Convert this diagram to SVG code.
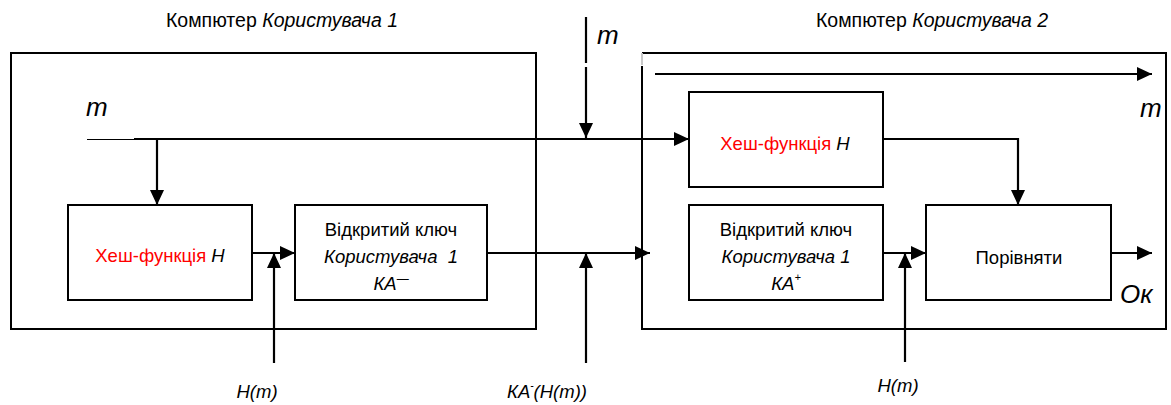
<svg xmlns="http://www.w3.org/2000/svg" width="1171" height="405" viewBox="0 0 1171 405">
<style>
.box{fill:#fff;stroke:#000;stroke-width:2}
.frame{fill:none;stroke:#000;stroke-width:2}
.ln{fill:none;stroke:#000;stroke-width:2.2}
.t{font-family:"Liberation Sans",Arial,sans-serif;font-size:18.5px;fill:#000}
.ttl{font-size:19.5px}
.i{font-style:italic}
.red{fill:#ff0000}
.big{font-family:"Liberation Sans",Arial,sans-serif;font-size:26px;font-style:italic;fill:#000}
</style>
<defs>
<marker id="ah" markerUnits="userSpaceOnUse" markerWidth="16" markerHeight="14" refX="15" refY="7" orient="auto">
<path d="M0,0 L15,7 L0,14 Z" fill="#000"/>
</marker>
</defs>
<rect width="1171" height="405" fill="#fff"/>

<g id="computer1">
<rect class="frame" x="11" y="53" width="525" height="276"/>
<text class="t ttl" x="282" y="27" text-anchor="middle">Компютер <tspan class="i">Користувача 1</tspan></text>
</g>

<g id="computer2">
<path class="frame" d="M642,66 V329 H1166 V53 H642"/>
<line x1="642" y1="53" x2="642" y2="65" stroke="#c8c8c8" stroke-width="2"/>
<text class="t ttl" x="932" y="27" text-anchor="middle">Компютер <tspan class="i">Користувача 2</tspan></text>
</g>

<g id="hash1">
<rect class="box" x="68" y="205" width="184" height="95"/>
<text class="t" x="160" y="262" text-anchor="middle"><tspan class="red">Хеш-функція</tspan> <tspan class="i">H</tspan></text>
</g>

<g id="key1">
<rect class="box" x="295" y="205" width="192" height="95"/>
<text class="t" x="391" y="236" text-anchor="middle">Відкритий ключ</text>
<text class="t i" x="391" y="263" text-anchor="middle" xml:space="preserve">Користувача  1</text>
<text class="t i" x="391" y="290" text-anchor="middle">КА<tspan dy="-7" font-size="12">—</tspan></text>
</g>

<g id="hash2">
<rect class="box" x="689" y="92" width="194" height="95"/>
<text class="t" x="785" y="150" text-anchor="middle"><tspan class="red">Хеш-функція</tspan> <tspan class="i">H</tspan></text>
</g>

<g id="key2">
<rect class="box" x="689" y="205" width="194" height="95"/>
<text class="t" x="786" y="236" text-anchor="middle">Відкритий ключ</text>
<text class="t i" x="786" y="263" text-anchor="middle">Користувача 1</text>
<text class="t i" x="786" y="290" text-anchor="middle">КА<tspan dy="-9" font-size="11">+</tspan></text>
</g>

<g id="compare">
<rect class="box" x="926" y="205" width="185" height="95"/>
<text class="t" x="1019" y="264" text-anchor="middle">Порівняти</text>
</g>

<g id="connectors">
<line x1="87" y1="139.5" x2="134" y2="139.5" stroke="#000" stroke-width="1"/>
<line class="ln" x1="134" y1="139" x2="689" y2="139" marker-end="url(#ah)"/>
<line class="ln" x1="157" y1="139" x2="157" y2="205" marker-end="url(#ah)"/>
<line class="ln" x1="586" y1="17" x2="586" y2="63"/>
<line class="ln" x1="586" y1="67" x2="586" y2="138" marker-end="url(#ah)"/>
<line class="ln" x1="252" y1="253" x2="295" y2="253" marker-end="url(#ah)"/>
<line class="ln" x1="274" y1="363" x2="274" y2="253" marker-end="url(#ah)"/>
<line class="ln" x1="487" y1="253" x2="650" y2="253" marker-end="url(#ah)"/>
<line class="ln" x1="586" y1="363" x2="586" y2="253" marker-end="url(#ah)"/>
<line class="ln" x1="655" y1="74" x2="1152" y2="74" marker-end="url(#ah)"/>
<polyline class="ln" points="883,139 1018,139 1018,205" marker-end="url(#ah)"/>
<line class="ln" x1="883" y1="253" x2="926" y2="253" marker-end="url(#ah)"/>
<line class="ln" x1="905" y1="362" x2="905" y2="253" marker-end="url(#ah)"/>
<line class="ln" x1="1111" y1="253" x2="1152" y2="253" marker-end="url(#ah)"/>
</g>

<g id="labels">
<text class="big" x="86" y="116">m</text>
<text class="big" x="597" y="44">m</text>
<text class="big" x="1140" y="117">m</text>
<text class="big" x="1120" y="303">Ок</text>
<text class="t i" x="257" y="398" text-anchor="middle">H(m)</text>
<text class="t i" x="507" y="398">КА<tspan dy="-9" font-size="10">-</tspan><tspan dy="9">(H(m))</tspan></text>
<text class="t i" x="898" y="392" text-anchor="middle">H(m)</text>
</g>
</svg>
